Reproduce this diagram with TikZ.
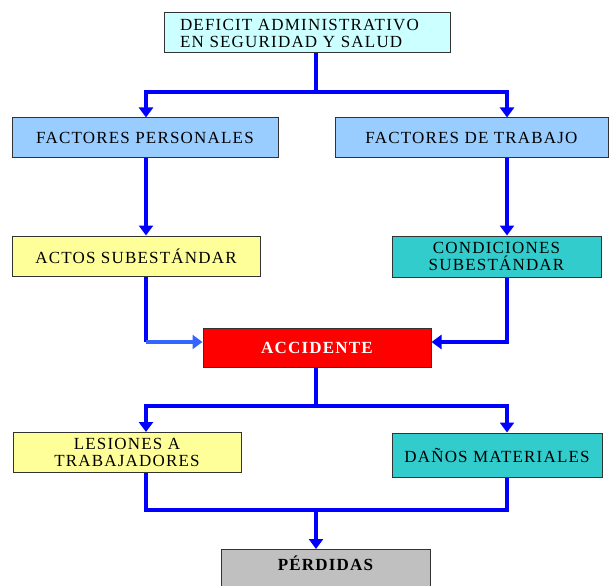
\documentclass[tikz,border=0pt]{standalone}
\usepackage{fontspec}
\setmainfont[LetterSpace=7,WordSpace=1.0]{Liberation Serif}
\usetikzlibrary{arrows.meta}
\definecolor{linkblue}{HTML}{0000FF}
\definecolor{lightlink}{HTML}{3366FF}
\definecolor{boxcyan}{HTML}{CCFFFF}
\definecolor{boxblue}{HTML}{99CCFF}
\definecolor{boxyellow}{HTML}{FFFF99}
\definecolor{boxteal}{HTML}{33CCCC}
\definecolor{boxgray}{HTML}{C0C0C0}
\definecolor{boxedge}{HTML}{333333}
\begin{document}
\begin{tikzpicture}[x=1pt,y=-1pt,
  box/.style={draw=boxedge, line width=1pt, rectangle, align=center,
    inner sep=2pt, font=\fontsize{17}{17}\selectfont},
  link/.style={draw=linkblue, line width=4pt},
  arr/.style={link, -{Triangle[width=14pt,length=10pt]}}]
  \useasboundingbox (0,0) rectangle (609,585);

  % Columns and junctions
  \coordinate (colL) at (146,0);
  \coordinate (colM) at (316,0);
  \coordinate (colR) at (507,0);
  \coordinate (split1) at (316,92);
  \coordinate (join1) at (0,342);
  \coordinate (split2) at (316,406);
  \coordinate (join2) at (316,510);

  % Boxes
  \node[box, fill=boxcyan, minimum width=286pt, minimum height=40pt,
    text width=254pt, align=left] (deficit) at (307,33)
    {DEFICIT ADMINISTRATIVO\\EN SEGURIDAD Y SALUD};
  \node[box, fill=boxblue, minimum width=266pt, minimum height=40pt] (fpers)
    at (145,138) {FACTORES PERSONALES};
  \node[box, fill=boxblue, minimum width=273pt, minimum height=40pt] (ftrab)
    at (471.5,138) {FACTORES DE TRABAJO};
  \node[box, fill=boxyellow, minimum width=248pt, minimum height=40pt] (actos)
    at (136,256) {ACTOS SUBESTÁNDAR};
  \node[box, fill=boxteal, minimum width=209pt, minimum height=41pt] (condic)
    at (496.5,256.5) {CONDICIONES\\SUBESTÁNDAR};
  \node[box, fill=red, text=white, font=\fontsize{17}{17}\selectfont\bfseries,
    minimum width=228pt, minimum height=39pt] (accid)
    at (317,347.5) {ACCIDENTE};
  \node[box, fill=boxyellow, minimum width=228pt, minimum height=40pt] (lesion)
    at (127,452.5) {LESIONES A\\TRABAJADORES};
  \node[box, fill=boxteal, minimum width=210pt, minimum height=44pt] (danos)
    at (497,455) {DAÑOS MATERIALES};
  \node[box, fill=boxgray, font=\fontsize{17}{17}\selectfont\bfseries,
    minimum width=209pt, text height=10pt, text depth=30pt, inner ysep=11pt,
    anchor=north] (perdid) at (325.5,549) {PÉRDIDAS};

  % Deficit to factores
  \draw[link] (deficit.south -| split1) -- (split1);
  \draw[arr] (split1) -| (fpers.north -| colL);
  \draw[arr] (split1) -| (ftrab.north -| colR);

  % Factores to subestandar
  \draw[arr] (fpers.south -| colL) -- (actos.north -| colL);
  \draw[arr] (ftrab.south -| colR) -- (condic.north -| colR);

  % Into accidente
  \draw[link] (actos.south -| colL) -- (colL |- join1);
  \draw[arr, draw=lightlink] (colL |- join1) -- (accid.west |- join1);
  \draw[arr] (condic.south -| colR) |- (accid.east |- join1);

  % Accidente to consecuencias
  \draw[link] (accid.south -| colM) -- (split2);
  \draw[arr] (split2) -| (lesion.north -| colL);
  \draw[arr] (split2) -| (danos.north -| colR);

  % Consecuencias to perdidas
  \draw[link] (lesion.south -| colL) |- (join2) -| (danos.south -| colR);
  \draw[arr] (join2) -- (perdid.north -| colM);
\end{tikzpicture}
\end{document}
